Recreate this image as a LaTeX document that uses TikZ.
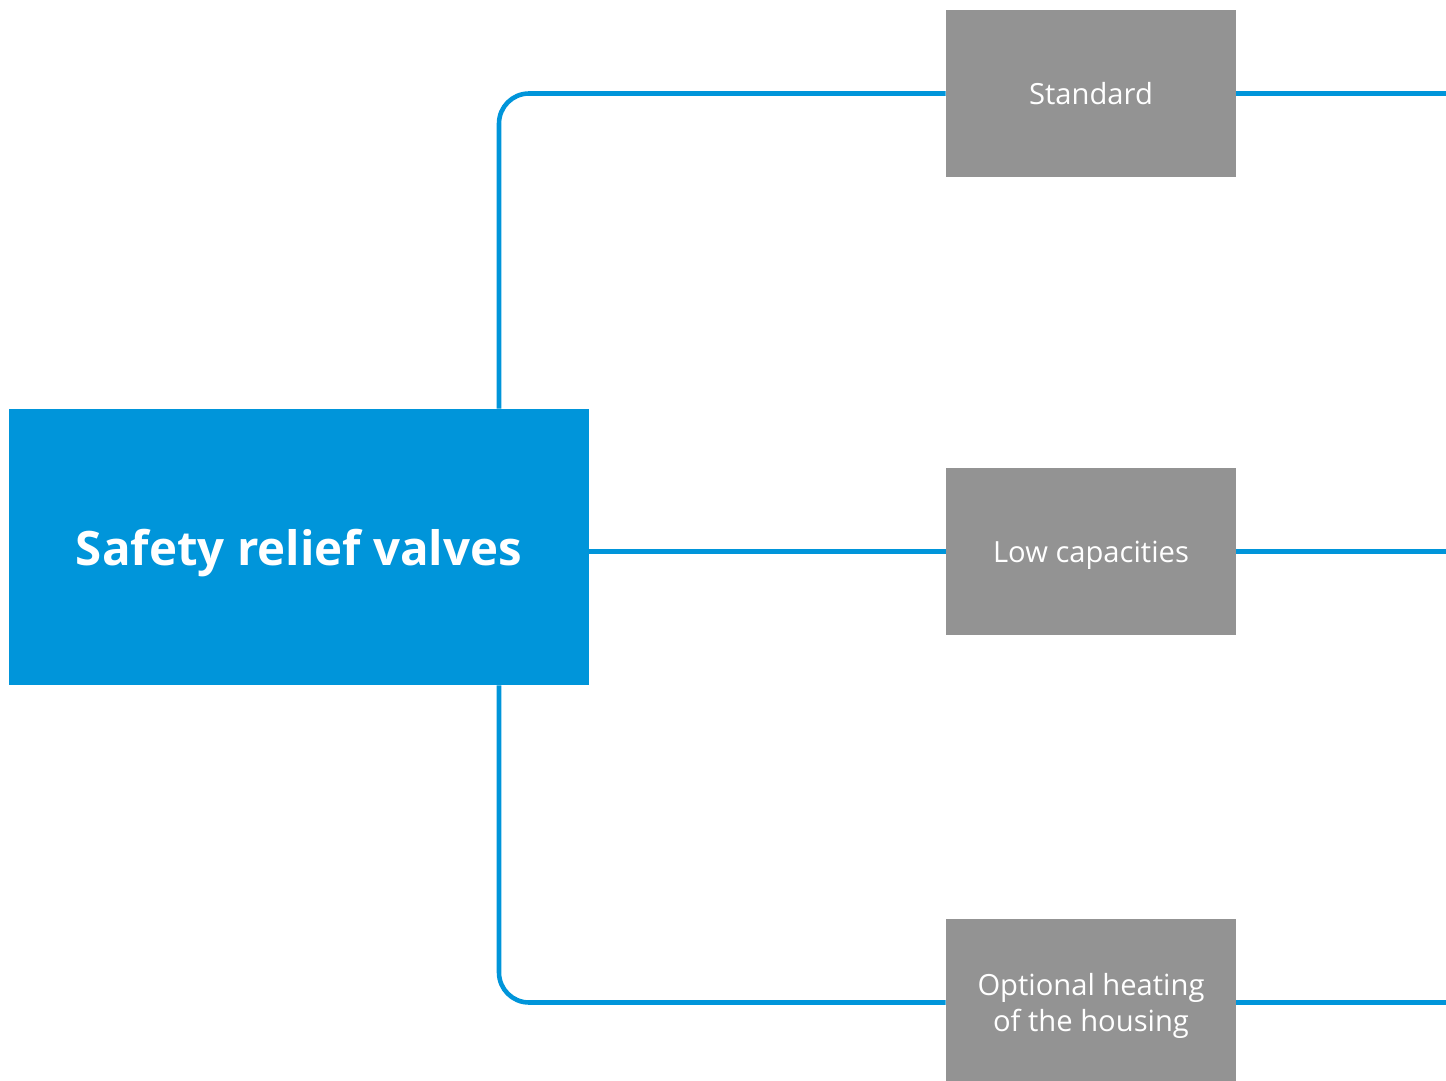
\documentclass[tikz,border=0pt]{standalone}
\usepackage{fontspec}
\setmainfont{Open Sans}
\usetikzlibrary{positioning}
\definecolor{valveblue}{RGB}{0,149,218}
\definecolor{boxgray}{RGB}{147,147,147}

\begin{document}
\begin{tikzpicture}[x=0.02cm,y=-0.02cm,
  mainbox/.style={fill=valveblue,text=white,font=\bfseries\fontsize{27}{32}\selectfont,
    minimum width=11.6cm,minimum height=5.52cm,inner sep=0pt,text depth=0pt},
  optbox/.style={fill=boxgray,text=white,font=\fontsize{16.6}{20.8}\selectfont,
    minimum width=5.8cm,minimum height=3.34cm,inner sep=0pt,align=center,text depth=0pt},
  link/.style={draw=valveblue,line width=2.6pt,rounded corners=0.6cm}]
\useasboundingbox (0,0) rectangle (1446,1081);
% main box and the three options
\node[mainbox] (srv) at (299,547) {Safety relief valves};
\node[optbox] (std) at (1091,93.5) {Standard};
\node[optbox] (low) at (1091,551.5) {Low capacities};
\node[optbox] (heat) at (1091,1002.5) {Optional heating\\of the housing};
% trunk and right edge
\coordinate (trunk) at (499,0);
\coordinate (edge) at (1446,0);
% connectors
\draw[link] (srv.north -| trunk) |- (std.west);
\draw[link] (srv.east |- low.west) -- (low.west);
\draw[link] (srv.south -| trunk) |- (heat.west);
\foreach \b in {std,low,heat}
  \draw[link] (\b.east) -- (\b.east -| edge);
\end{tikzpicture}
\end{document}
